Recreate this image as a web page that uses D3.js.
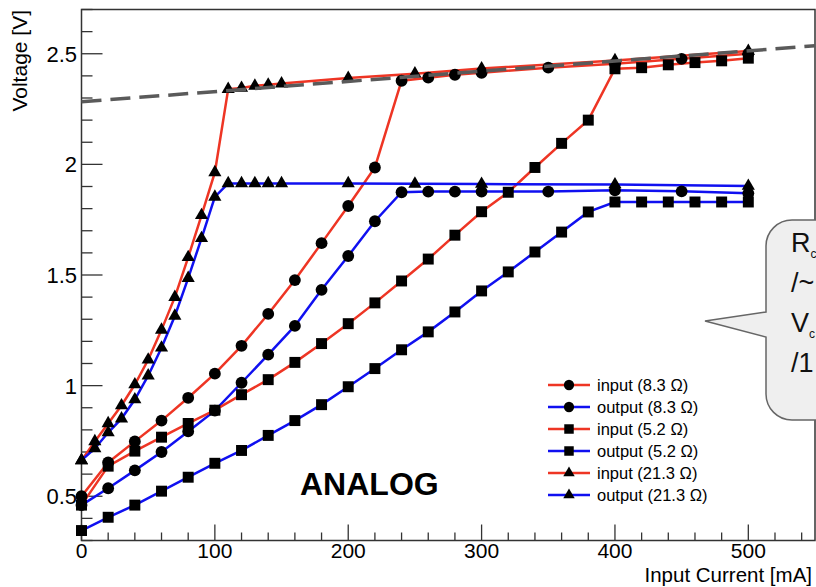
<!DOCTYPE html>
<html>
<head>
<meta charset="utf-8">
<script src="https://cdn.jsdelivr.net/npm/d3@7"></script>
<style>
  body { margin: 0; background: #fff; }
  svg { display: block; font-family: "Liberation Sans", Arial, Helvetica, sans-serif; }
</style>
</head>
<body>
<svg></svg>
<script>
const width = 816;
const height = 587;

// Current values (mA) for each measurement series
const currentInput83 = [0, 20, 40, 60, 80, 100, 120, 140, 160, 180, 200, 220, 240, 260, 280, 300, 350, 400, 450, 500];
const voltsInput83 = [0.50, 0.653, 0.748, 0.842, 0.945, 1.054, 1.18, 1.324, 1.477, 1.644, 1.812, 1.986, 2.378, 2.392, 2.405, 2.414, 2.437, 2.455, 2.477, 2.50];
const voltsOutput83 = [0.46, 0.536, 0.617, 0.70, 0.793, 0.887, 1.013, 1.14, 1.27, 1.433, 1.586, 1.743, 1.874, 1.877, 1.877, 1.877, 1.877, 1.883, 1.878, 1.869];

const current52 = [0, 20, 40, 60, 80, 100, 120, 140, 160, 180, 200, 220, 240, 260, 280, 300, 320, 340, 360, 380, 400, 420, 440, 460, 480, 500];
const voltsInput52 = [0.46, 0.636, 0.704, 0.767, 0.829, 0.889, 0.959, 1.027, 1.105, 1.19, 1.28, 1.374, 1.473, 1.572, 1.68, 1.786, 1.874, 1.986, 2.095, 2.20, 2.432, 2.437, 2.45, 2.46, 2.468, 2.48];
const voltsOutput52 = [0.345, 0.405, 0.46, 0.523, 0.586, 0.649, 0.707, 0.775, 0.842, 0.914, 0.995, 1.077, 1.162, 1.243, 1.333, 1.428, 1.514, 1.604, 1.694, 1.785, 1.83, 1.83, 1.83, 1.83, 1.83, 1.83];

const current213 = [0, 10, 20, 30, 40, 50, 60, 70, 80, 90, 100, 110, 120, 130, 140, 150, 200, 250, 300, 400, 500];
const voltsInput213 = [0.662, 0.748, 0.829, 0.91, 1.005, 1.117, 1.252, 1.40, 1.58, 1.77, 1.964, 2.34, 2.345, 2.355, 2.36, 2.365, 2.39, 2.41, 2.433, 2.47, 2.512];
const voltsOutput213 = [0.662, 0.716, 0.788, 0.851, 0.937, 1.045, 1.171, 1.315, 1.486, 1.666, 1.853, 1.914, 1.914, 1.914, 1.914, 1.914, 1.914, 1.912, 1.911, 1.909, 1.902];

// Linear fit drawn as the dashed gray line
const fitCurrent = [0, 550];
const fitVolts = [2.283, 2.536];

const xTicks = [0, 100, 200, 300, 400, 500];
const yTicks = [0.5, 1, 1.5, 2, 2.5];

const red = "#ee3524";
const blue = "#1010f0";

const series = [
    { label: "input (8.3 \u03a9)", x: currentInput83, y: voltsInput83, color: red, symbol: d3.symbolCircle, size: 110 },
    { label: "output (8.3 \u03a9)", x: currentInput83, y: voltsOutput83, color: blue, symbol: d3.symbolCircle, size: 110 },
    { label: "input (5.2 \u03a9)", x: current52, y: voltsInput52, color: red, symbol: d3.symbolSquare, size: 120 },
    { label: "output (5.2 \u03a9)", x: current52, y: voltsOutput52, color: blue, symbol: d3.symbolSquare, size: 120 },
    { label: "input (21.3 \u03a9)", x: current213, y: voltsInput213, color: red, symbol: d3.symbolTriangle, size: 75 },
    { label: "output (21.3 \u03a9)", x: current213, y: voltsOutput213, color: blue, symbol: d3.symbolTriangle, size: 75 }
];

const svg = d3.select("svg")
    .attr("width", width)
    .attr("height", height);

const x = d3.scaleLinear().domain([0, 550]).range([81.5, 815]);
const y = d3.scaleLinear().domain([0.3, 2.7]).range([540.5, 9.5]);

// Frame
svg.append("rect")
    .attr("x", x(0)).attr("y", y(2.7))
    .attr("width", x(550) - x(0)).attr("height", y(0.3) - y(2.7))
    .attr("fill", "none").attr("stroke", "#333").attr("stroke-width", 1.5);

// X axis ticks
const xMinor = d3.range(0, 551, 20);
svg.append("g").selectAll("line").data(xMinor).join("line")
    .attr("x1", d => x(d)).attr("x2", d => x(d))
    .attr("y1", y(0.3)).attr("y2", d => y(0.3) - (d % 100 === 0 ? 16 : 8))
    .attr("stroke", "#333").attr("stroke-width", 1.3);
svg.append("g").selectAll("text").data(xTicks).join("text")
    .attr("x", d => x(d)).attr("y", 558)
    .attr("text-anchor", "middle").attr("font-size", "21px")
    .text(d => d);

// Y axis ticks
const yMinor = d3.range(3, 28).map(d => d / 10);
svg.append("g").selectAll("line").data(yMinor).join("line")
    .attr("x1", x(0)).attr("x2", d => x(0) + (Math.round(d * 10) % 5 === 0 ? 21 : 11))
    .attr("y1", d => y(d)).attr("y2", d => y(d))
    .attr("stroke", "#333").attr("stroke-width", 1.3);
svg.append("g").selectAll("text").data(yTicks).join("text")
    .attr("x", 77).attr("y", d => y(d) + 8)
    .attr("text-anchor", "end").attr("font-size", "22px")
    .text(d => d);

// Axis titles
svg.append("text")
    .attr("transform", `translate(27, 10) rotate(-90)`)
    .attr("text-anchor", "end").attr("font-size", "21px")
    .text("Voltage [V]");
svg.append("text")
    .attr("x", 812).attr("y", 582)
    .attr("text-anchor", "end").attr("font-size", "20.5px")
    .text("Input Current [mA]");

// Series lines and markers
const line = d3.line().x(d => x(d[0])).y(d => y(d[1]));
series.forEach(s => {
    const pts = s.x.map((v, i) => [v, s.y[i]]);
    svg.append("path")
        .attr("d", line(pts))
        .attr("fill", "none").attr("stroke", s.color).attr("stroke-width", 2.5);
});
series.forEach(s => {
    const pts = s.x.map((v, i) => [v, s.y[i]]);
    svg.append("g").selectAll("path").data(pts).join("path")
        .attr("transform", d => `translate(${x(d[0])},${y(d[1])})`)
        .attr("d", d3.symbol().type(s.symbol).size(s.size))
        .attr("fill", "#000");
});

// Dashed fit line
svg.append("line")
    .attr("x1", x(fitCurrent[0])).attr("y1", y(fitVolts[0]))
    .attr("x2", x(fitCurrent[1])).attr("y2", y(fitVolts[1]))
    .attr("stroke", "#5a5a5a").attr("stroke-width", 3.5)
    .attr("stroke-dasharray", "20,9");

// Label
svg.append("text")
    .attr("x", 300).attr("y", 495)
    .attr("font-size", "32px").attr("font-weight", "bold")
    .text("ANALOG");

// Legend
const legend = svg.append("g");
series.forEach((s, i) => {
    const ly = 385 + i * 22;
    legend.append("line")
        .attr("x1", 548).attr("x2", 590).attr("y1", ly).attr("y2", ly)
        .attr("stroke", s.color).attr("stroke-width", 2.5);
    legend.append("path")
        .attr("transform", `translate(569,${ly})`)
        .attr("d", d3.symbol().type(s.symbol).size(s.size * 0.75))
        .attr("fill", "#000");
    legend.append("text")
        .attr("x", 597).attr("y", ly + 6)
        .attr("font-size", "16.5px")
        .text(s.label);
});

// Callout bubble (runs off the right edge, as in the original)
const bx = 766, by = 220, bw = 120, bh = 200, r = 26;
const bubble = d3.path();
bubble.moveTo(bx + r, by);
bubble.lineTo(bx + bw, by);
bubble.lineTo(bx + bw, by + bh);
bubble.lineTo(bx + r, by + bh);
bubble.arcTo(bx, by + bh, bx, by + bh - r, r);
bubble.lineTo(bx, 337);
bubble.lineTo(705, 321);
bubble.lineTo(bx, 312);
bubble.lineTo(bx, by + r);
bubble.arcTo(bx, by, bx + r, by, r);
bubble.closePath();
svg.append("path")
    .attr("d", bubble.toString())
    .attr("fill", "#efefef").attr("stroke", "#666").attr("stroke-width", 1.5);

const bubbleLines = [["R", "c"], ["/~", ""], ["V", "c"], ["/1", ""]];
bubbleLines.forEach((l, i) => {
    const t = svg.append("text")
        .attr("x", 791).attr("y", 252 + i * 40)
        .attr("font-size", "27px").attr("fill", "#111");
    t.append("tspan").text(l[0]);
    if (l[1]) t.append("tspan").attr("dy", 6).attr("font-size", "12px").text(l[1]);
});
</script>
</body>
</html>
